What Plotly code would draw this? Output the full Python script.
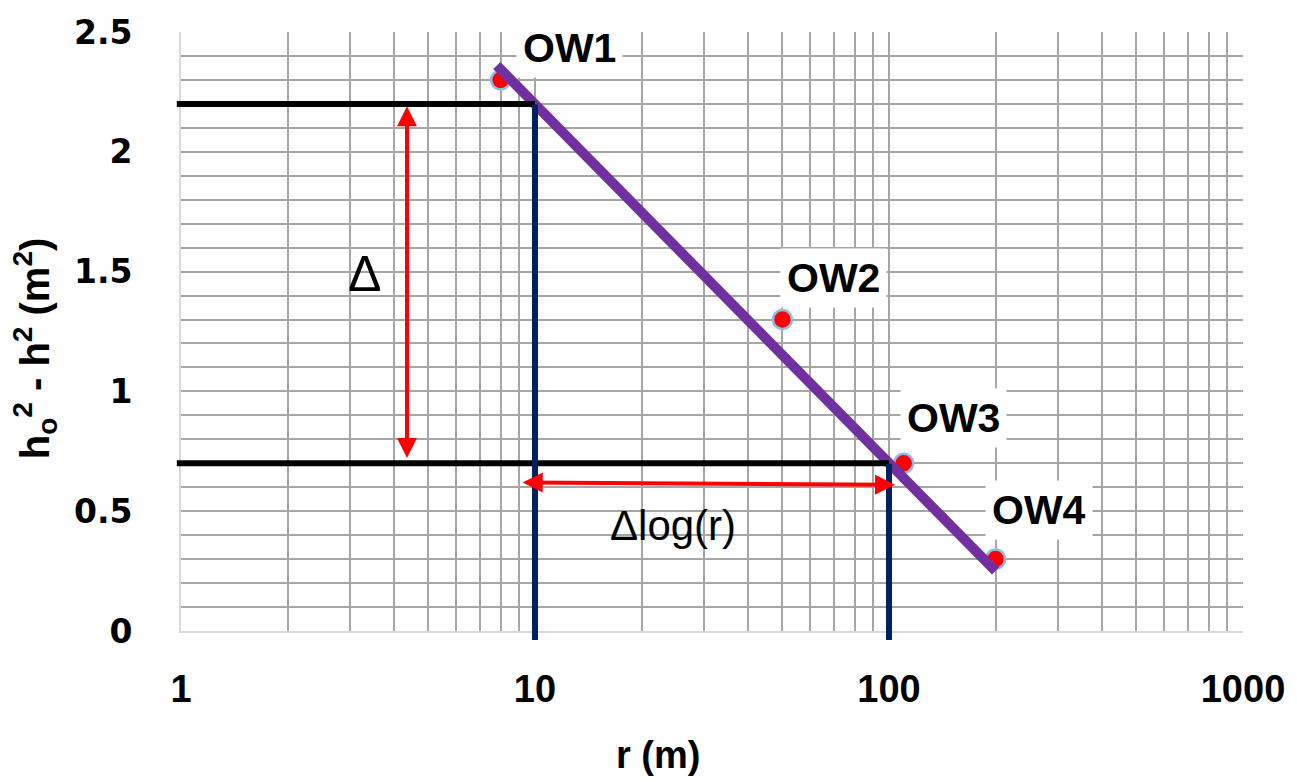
import numpy as np
import plotly.graph_objects as go

# ---------------- data ----------------
wells = ["OW1", "OW2", "OW3", "OW4"]
r_m = [8, 50, 110, 200]
dh2 = [2.3, 1.3, 0.7, 0.3]

fit_r = [7.8, 200]
fit_dh2 = [2.36, 0.25]

ref_r = [10, 100]          # reference radii (one log cycle)
ref_dh2 = [2.2, 0.7]       # fitted values at those radii
guide_r0 = 0.97            # start of horizontal guide lines
guide_bottom = -0.038      # bottom end of vertical guide lines

delta_r = 4.35             # x of vertical Δ arrow
dlog_r = [9.2, 104]        # horizontal Δlog(r) arrow ends
dlog_y = [0.62, 0.61]

x_tickvals = [1, 10, 100, 1000]
x_ticktext = ["1", "10", "100", "1000"]
y_range = [0, 2.5]

label_shift = [(69, 32), (51, 42), (50, 45), (43, 49)]

GRID = "#A6A6A6"
BOLD = "Liberation Sans"

fig = go.Figure()

fig.add_trace(go.Scatter(
    x=r_m, y=dh2, mode="markers",
    marker=dict(color="#FF0000", size=19, line=dict(color="#8FBCE6", width=2.5)),
    showlegend=False, hoverinfo="skip"))

fig.add_trace(go.Scatter(
    x=fit_r, y=fit_dh2, mode="lines",
    line=dict(color="#7030A0", width=10),
    showlegend=False, hoverinfo="skip"))

L = np.log10
ann = []


def seg(x0, y0, x1, y1, color, width, heads="none"):
    ann.append(dict(
        x=L(x1), y=y1, ax=L(x0), ay=y0, xref="x", yref="y", axref="x", ayref="y",
        text="", showarrow=True, arrowhead=2, arrowsize=1, arrowwidth=width,
        arrowcolor=color, arrowside=heads, standoff=0, startstandoff=0,
        font=dict(size=1), borderpad=0))


# black horizontal guides
seg(guide_r0, ref_dh2[0], ref_r[0], ref_dh2[0], "#000000", 6)
seg(guide_r0, ref_dh2[1], ref_r[1], ref_dh2[1], "#000000", 6)
# navy vertical guides
seg(ref_r[0], ref_dh2[0], ref_r[0], guide_bottom, "#002060", 6)
seg(ref_r[1], ref_dh2[1], ref_r[1], guide_bottom, "#002060", 6)
# red double arrows
seg(delta_r, ref_dh2[1] + 0.02, delta_r, ref_dh2[0] - 0.01, "#FF0000", 4, "end+start")
seg(dlog_r[0], dlog_y[0], dlog_r[1], dlog_y[1], "#FF0000", 4, "end+start")

# well labels
for name, r, h, (dx, dy) in zip(wells, r_m, dh2, label_shift):
    ann.append(dict(
        x=L(r), y=h, xref="x", yref="y", text="<b>%s</b>" % name, showarrow=False,
        xshift=dx, yshift=dy, bgcolor="#FFFFFF", borderpad=6,
        font=dict(family=BOLD, size=41, color="#000000")))

ann.append(dict(x=L(3.3), y=1.49, xref="x", yref="y", text="Δ", showarrow=False,
                font=dict(family="Liberation Sans", size=50, color="#000000")))
ann.append(dict(x=L(24.5), y=0.442, xref="x", yref="y", text="Δlog(r)", showarrow=False,
                font=dict(family="Liberation Sans", size=42, color="#000000")))

# axis titles
ann.append(dict(x=0.449, y=0, xref="paper", yref="paper", yshift=-124,
                xanchor="center", yanchor="middle",
                text="<b>r (m)</b>", showarrow=False,
                font=dict(family=BOLD, size=38, color="#000000")))
ann.append(dict(x=0, y=0.472, xref="paper", yref="paper", xshift=-146,
                xanchor="center", yanchor="middle",
                text="<b>h<sub>o</sub><sup>2</sup> - h<sup>2</sup> (m<sup>2</sup>)</b>",
                textangle=-90, showarrow=False,
                font=dict(family=BOLD, size=40, color="#000000")))

minor_x = [m * 10 ** d for d in range(0, 3) for m in range(2, 10)]

# the page body adds an 8px offset; size the figure so the plot lands where the reference's does
fig.update_layout(
    width=1289, height=774,
    margin=dict(l=173, r=54, t=24, b=151),
    plot_bgcolor="#FFFFFF", paper_bgcolor="#FFFFFF",
    annotations=ann,
    xaxis=dict(
        type="log", range=[0, 3], tickmode="array", tickvals=x_tickvals, ticktext=x_ticktext,
        showgrid=True, gridcolor=GRID, gridwidth=1.5, ticks="", automargin=False,
        ticklabelstandoff=23,
        tickfont=dict(family=BOLD, size=38, color="#000000", weight="bold"),
        minor=dict(tickmode="array", tickvals=minor_x, showgrid=True, gridcolor=GRID, gridwidth=1.5),
        showline=True, linecolor="#D9D9D9", linewidth=2, zeroline=False),
    yaxis=dict(
        range=y_range, dtick=0.5, tick0=0, showgrid=True, gridcolor=GRID, gridwidth=1.5,
        ticks="", ticklabelstandoff=40, automargin=False,
        tickfont=dict(family="DejaVu Sans", size=33, color="#000000", weight="bold"),
        minor=dict(dtick=0.1, showgrid=True, gridcolor=GRID, gridwidth=1.5),
        showline=True, linecolor="#D9D9D9", linewidth=2, zeroline=False),
)

fig.write_html("out.html")
